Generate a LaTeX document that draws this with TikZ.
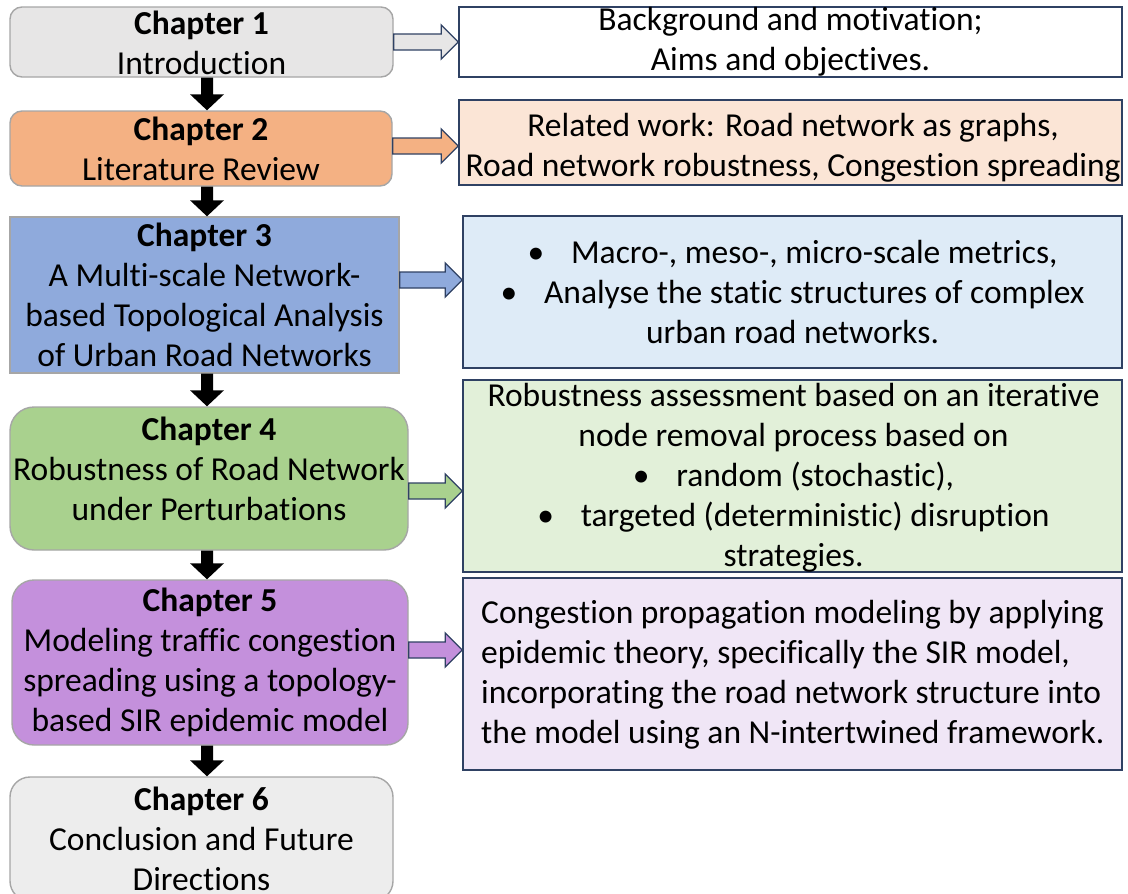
\documentclass[tikz,border=0pt]{standalone}
\usepackage{fontspec}
\setmainfont{Carlito}[Ligatures=NoCommon]
\usetikzlibrary{calc}
\definecolor{navy}{HTML}{2F4163}
\definecolor{lgray}{HTML}{A6A6A6}
\definecolor{fone}{HTML}{E7E6E6}
\definecolor{fsix}{HTML}{EDEDED}
\definecolor{ftwo}{HTML}{F4B183}
\definecolor{ltwo}{HTML}{FBE5D6}
\definecolor{fthree}{HTML}{8FAADC}
\definecolor{lthree}{HTML}{DEEBF7}
\definecolor{ffour}{HTML}{A9D18E}
\definecolor{lfour}{HTML}{E2F0D9}
\definecolor{ffive}{HTML}{C490DC}
\definecolor{lfive}{HTML}{F0E6F6}
\newcommand{\dnarrow}[2]{%
  \path[fill=black] let \p1=(#1.south -| ax), \p2=(#2.north -| ax) in
    (\x1-6pt,\y1) -- (\x1+6pt,\y1) -- (\x1+6pt,\y2+16pt) -- (\x1+17pt,\y2+16pt)
    -- (\x1,\y2) -- (\x1-17pt,\y2+16pt) -- (\x1-6pt,\y2+16pt) -- cycle;}
\newcommand{\sidearrow}[4]{%
  \path[draw=navy, line width=1.3pt, line join=miter, fill=#4]
    let \p1=(#1.east), \p2=(#2.west), \p3=(0,#3) in
    (\x1,\y3+8pt) -- (\x2-17pt,\y3+8pt) -- (\x2-17pt,\y3+17pt) -- (\x2,\y3)
    -- (\x2-17pt,\y3-17pt) -- (\x2-17pt,\y3-8pt) -- (\x1,\y3-8pt) -- cycle;}
\begin{document}
\begin{tikzpicture}[x=1pt,y=-1pt,
  every node/.style={font=\fontsize{33.5}{40}\selectfont, align=center, inner sep=0pt},
  lbox/.style={draw=lgray, line width=1.4pt, rounded corners=#1},
  lbox/.default=12pt,
  rbox/.style={draw=navy, line width=1.4pt},
  txt/.style={}]
\path[use as bounding box] (0,0) rectangle (1128,894);
\clip (0,0) rectangle (1128,894);
\coordinate (ax) at (207,0);

% left chapter boxes
\node[lbox=12pt, fill=fone, minimum width=383, minimum height=70] (c1) at (201.5,42) {};
\node[txt] (t1) at (201.5,43) {\textbf{Chapter 1}\\Introduction};
\node[lbox=12pt, fill=ftwo, minimum width=382, minimum height=75] (c2) at (201,148.5) {};
\node[txt] (t2l) at (201,149) {\textbf{Chapter 2}\\Literature Review};
\node[lbox=0pt, fill=fthree, minimum width=389, minimum height=156] (c3) at (204.5,295)
  {\textbf{Chapter 3}\\A Multi-scale Network-\\based Topological Analysis\\of Urban Road Networks};
\node[lbox=24pt, fill=ffour, minimum width=398, minimum height=143] (c4) at (209,478.5) {};
\node[txt] (t4) at (209,469)
  {\textbf{Chapter 4}\\Robustness of Road Network\\under Perturbations};
\node[lbox=22pt, fill=ffive, minimum width=396, minimum height=165] (c5) at (210,662.5)
  {\textbf{Chapter 5}\\Modeling traffic congestion\\spreading using a topology-\\based SIR epidemic model};
\node[lbox=20pt, fill=fsix, minimum width=383, minimum height=124] (c6) at (201.5,839)
  {\textbf{Chapter 6}\\Conclusion and Future\\Directions};

% right description boxes
\node[rbox, fill=white, minimum width=663, minimum height=70] (r1) at (790.5,42)
  {Background and motivation;\\Aims and objectives.};
\node[rbox, fill=ltwo, minimum width=663, minimum height=85] (r2) at (790.5,142.5) {};
\node[txt] (t2) at (793,148)
  {Related work: Road network as graphs,\\Road network robustness, Congestion spreading};
\node[rbox, fill=lthree, minimum width=659, minimum height=152] (r3) at (792.5,292)
  {\textbullet\hspace{0.8em}Macro-, meso-, micro-scale metrics,\\
   \textbullet\hspace{0.8em}Analyse the static structures of complex\\
   urban road networks.};
\node[rbox, fill=lfour, minimum width=659, minimum height=192] (r4) at (792.5,476) {};
\node[txt] (t4r) at (793.5,477.5)
  {Robustness assessment based on an iterative\\
   node removal process based on\\
   \textbullet\hspace{0.8em}random (stochastic),\\
   \textbullet\hspace{0.8em}targeted (deterministic) disruption\\
   strategies.};
\node[rbox, fill=lfive, minimum width=659, minimum height=192] (r5) at (792.5,674) {};
\node[txt, align=left, anchor=west] (t5) at (481,674.5)
  {Congestion propagation modeling by applying\\
   epidemic theory, specifically the SIR model,\\
   incorporating the road network structure into\\
   the model using an N-intertwined framework.};

% down arrows
\dnarrow{c1}{c2}
\dnarrow{c2}{c3}
\dnarrow{c3}{c4}
\dnarrow{c4}{c5}
\dnarrow{c5}{c6}

% side block arrows
\sidearrow{c1}{r1}{42}{fone}
\sidearrow{c2}{r2}{146}{ftwo}
\sidearrow{c3}{r3}{280}{fthree}
\sidearrow{c4}{r4}{491}{ffour}
\sidearrow{c5}{r5}{650}{ffive}
\end{tikzpicture}
\end{document}
